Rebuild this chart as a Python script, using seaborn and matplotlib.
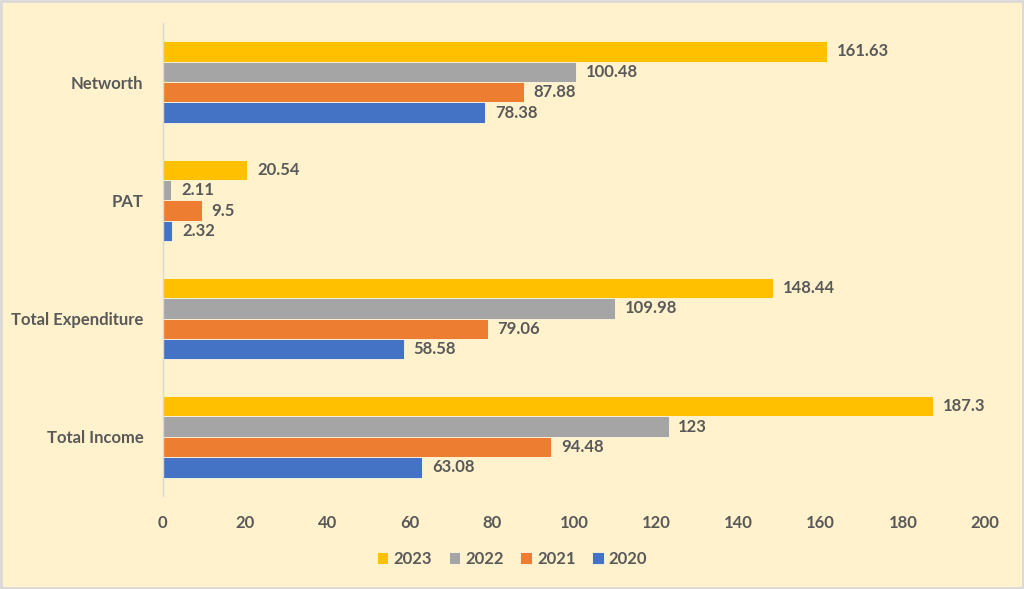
import numpy as np
import pandas as pd
import matplotlib.pyplot as plt
import seaborn as sns

# data
categories = ["Networth", "PAT", "Total Expenditure", "Total Income"]
years = ["2023", "2022", "2021", "2020"]
v2023 = [161.63, 20.54, 148.44, 187.3]
v2022 = [100.48, 2.11, 109.98, 123]
v2021 = [87.88, 9.5, 79.06, 94.48]
v2020 = [78.38, 2.32, 58.58, 63.08]
colors = ["#FFC000", "#A5A5A5", "#ED7D31", "#4472C4"]

rows = []
for yr, vals in zip(years, [v2023, v2022, v2021, v2020]):
    for c, v in zip(categories, vals):
        rows.append({"Category": c, "Year": yr, "Value": v})
df = pd.DataFrame(rows)

sns.set_style("white")
plt.rcParams['font.family'] = ['Lato', 'DejaVu Sans']
txt = "#595959"
bg = "#FFF2CC"

fig = plt.figure(figsize=(10.24, 5.89), dpi=100, facecolor=bg)
ax = fig.add_axes([0.159, 0.158, 0.803, 0.803])
ax.set_facecolor(bg)

sns.barplot(data=df, y="Category", x="Value", hue="Year", order=categories,
            hue_order=years, palette=colors, saturation=1, orient="h", width=0.69,
            gap=0, edgecolor="#FFF8E0", linewidth=0.6, ax=ax)

for cont in ax.containers:
    ax.bar_label(cont, labels=[f"{v:g}" for v in cont.datavalues], padding=7,
                 fontsize=12, fontweight="bold", color=txt)

ax.set_xlim(0, 200)
ax.set_ylim(3.5, -0.5)
ax.set_xticks(np.arange(0, 201, 20))
ax.set_xlabel("")
ax.set_ylabel("")
ax.tick_params(axis="both", length=0, labelsize=12, labelcolor=txt, pad=14)
for lab in ax.get_xticklabels() + ax.get_yticklabels():
    lab.set_fontweight("bold")
for s in ["top", "right", "bottom"]:
    ax.spines[s].set_visible(False)
ax.spines["left"].set_color("#D9D9D9")
ax.spines["left"].set_linewidth(1)

ax.legend_.remove()
handles, labels = ax.get_legend_handles_labels()
leg = fig.legend(handles, labels, loc="center", bbox_to_anchor=(0.5, 0.051), ncol=4,
                 frameon=False, handlelength=0.7, handleheight=0.7, handletextpad=0.3,
                 columnspacing=1.0, prop={"weight": "bold", "size": 12})
for t in leg.get_texts():
    t.set_color(txt)

fig.patches.append(plt.Rectangle((0.001, 0.001), 0.998, 0.997, transform=fig.transFigure,
                                 fill=False, edgecolor="#D9D9D9", linewidth=2))

plt.savefig("out.png", dpi=100, facecolor=bg)
